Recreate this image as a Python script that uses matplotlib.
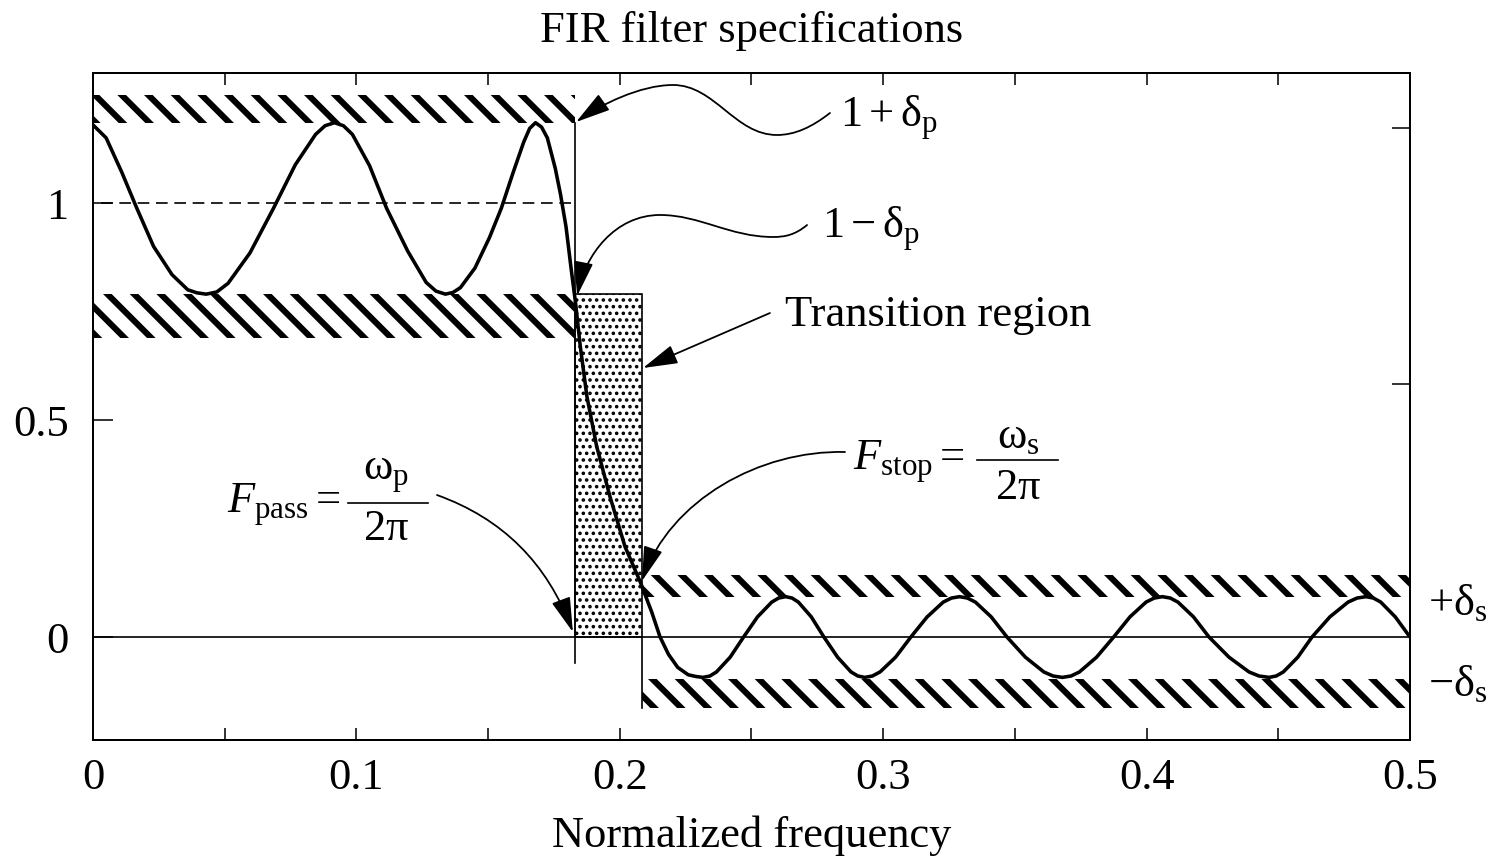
import matplotlib
matplotlib.use("Agg")
import matplotlib.pyplot as plt
from matplotlib.patches import Rectangle, FancyArrowPatch
from matplotlib.path import Path

plt.rcParams["font.family"] = ["Liberation Serif", "DejaVu Serif"]
plt.rcParams["mathtext.fontset"] = "custom"
plt.rcParams["mathtext.rm"] = "Liberation Serif"
plt.rcParams["mathtext.it"] = "Liberation Serif:italic"
plt.rcParams["mathtext.bf"] = "Liberation Serif:bold"
plt.rcParams["mathtext.default"] = "rm"

# band edges
f_pass = 0.183
f_stop = 0.2083
pass_hi = 1.185
pass_lo = 0.79
stop_hi = 0.093
stop_lo = -0.097

# magnitude response, read point by point
freq = [0.0, 0.005, 0.011, 0.0165, 0.023, 0.030, 0.036, 0.0395, 0.043, 0.047,
        0.0513, 0.0596, 0.0685, 0.0768, 0.0845, 0.0881, 0.0917, 0.0951,
        0.0985, 0.1050, 0.1115, 0.1195, 0.1265, 0.1302, 0.1338, 0.1367,
        0.1395, 0.1450, 0.1505, 0.155, 0.1595, 0.1635, 0.1658, 0.168, 0.1703,
        0.1725, 0.1755, 0.1775, 0.1796, 0.1815, 0.1832, 0.1850,
        0.1875, 0.1912, 0.1963, 0.2020, 0.2077, 0.2121, 0.2153,
        0.2185, 0.2220, 0.2260, 0.2290, 0.2316, 0.2342,
        0.2367, 0.2419, 0.247, 0.2523, 0.2577, 0.2603, 0.263, 0.2654,
        0.2678, 0.2727, 0.2775, 0.2827, 0.2878, 0.2904, 0.293, 0.2959,
        0.2988, 0.3047, 0.3105, 0.3167, 0.3228, 0.3259, 0.329, 0.332,
        0.335, 0.341, 0.347, 0.354, 0.361, 0.3645, 0.368, 0.3713,
        0.3745, 0.381, 0.3875, 0.3937, 0.3998, 0.4029, 0.406, 0.4090,
        0.4119, 0.4178, 0.4237, 0.4313, 0.4389, 0.4427, 0.4465, 0.4492,
        0.4519, 0.4574, 0.4628, 0.4696, 0.4765, 0.4799, 0.4833, 0.4861,
        0.4889, 0.4944, 0.5]
mag = [1.180, 1.15, 1.07, 0.99, 0.90, 0.835, 0.80, 0.793, 0.79, 0.795,
       0.815, 0.885, 0.9875, 1.088, 1.158, 1.178, 1.185, 1.178,
       1.158, 1.086, 0.9875, 0.889, 0.817, 0.797, 0.79, 0.794,
       0.805, 0.85, 0.92, 0.9875, 1.07, 1.14, 1.172, 1.185, 1.175,
       1.15, 1.08, 1.02, 0.945, 0.85, 0.77, 0.67,
       0.555, 0.44, 0.323, 0.208, 0.128, 0.058, 0.0,
       -0.040, -0.070, -0.087, -0.091, -0.093, -0.0898,
       -0.0805, -0.0465, 0.0, 0.0465, 0.0805, 0.0898, 0.093, 0.0898,
       0.0805, 0.0465, 0.0, -0.0465, -0.0805, -0.0898, -0.093, -0.0898,
       -0.0805, -0.0465, 0.0, 0.0465, 0.0805, 0.0898, 0.093, 0.0898,
       0.0805, 0.0465, 0.0, -0.0465, -0.0805, -0.0898, -0.093, -0.0898,
       -0.0805, -0.0465, 0.0, 0.0465, 0.0805, 0.0898, 0.093, 0.0898,
       0.0805, 0.0465, 0.0, -0.0465, -0.0805, -0.0898, -0.093, -0.0898,
       -0.0805, -0.0465, 0.0, 0.0465, 0.0805, 0.0898, 0.093, 0.0898,
       0.0805, 0.0465, 0.0]

xticks = [0, 0.05, 0.1, 0.15, 0.2, 0.25, 0.3, 0.35, 0.4, 0.45, 0.5]
xticklabels = ["0", "", "0.1", "", "0.2", "", "0.3", "", "0.4", "", "0.5"]
yticks = [0, 0.5, 1]
yticklabels = ["0", "0.5", "1"]
right_ticks = [0.583, 1.173]

fig = plt.figure(figsize=(18.625, 10.7375), dpi=80)
ax = fig.add_axes([0.0624, 0.1385, 0.8839, 0.7765])
ax.set_xlim(0, 0.5)
ax.set_ylim(-0.2373, 1.2995)


def band(x0, x1, y0, y1):
    r = Rectangle((x0, y0), x1 - x0, y1 - y0, facecolor="white",
                  edgecolor="black", lw=0, hatch="\\", zorder=1)
    if hasattr(r, "set_hatch_linewidth"):
        r.set_hatch_linewidth(5.5)
    ax.add_patch(r)


plt.rcParams["hatch.linewidth"] = 5.5
band(0, f_pass, pass_hi, 1.249)
band(0, f_pass, 0.689, pass_lo)
band(f_stop, 0.5, stop_hi, 0.143)
band(f_stop, 0.5, -0.163, stop_lo)

trans = Rectangle((f_pass, 0), f_stop - f_pass, pass_lo, facecolor="white",
                  edgecolor="black", lw=1.5, hatch="..", zorder=2)
if hasattr(trans, "set_hatch_linewidth"):
    trans.set_hatch_linewidth(2.0)
ax.add_patch(trans)

# reference lines
ax.axhline(0, color="black", lw=1.5, zorder=2)
ax.plot([0.003, f_pass], [1, 1], color="black", lw=1.5, ls=(0, (7, 4)), zorder=2)
ax.plot([f_pass, f_pass], [-0.06, pass_hi], color="black", lw=1.5, zorder=2)
ax.plot([f_stop, f_stop], [-0.163, 0], color="black", lw=1.5, zorder=2)

ax.plot(freq, mag, color="black", lw=3.2, zorder=3,
        solid_joinstyle="round", solid_capstyle="round")

# annotations
ahead = "-|>,head_length=2.7,head_width=0.75"


def curved(verts, codes):
    p = FancyArrowPatch(path=Path(verts, codes), arrowstyle=ahead,
                        mutation_scale=10, lw=1.6, color="black", zorder=4)
    ax.add_patch(p)


C4 = Path.CURVE4
curved([(0.2798, 1.2074), (0.2730, 1.1751), (0.2665, 1.1567), (0.2597, 1.1567),
        (0.2437, 1.1567), (0.2361, 1.2719), (0.2202, 1.2719),
        (0.2077, 1.2719), (0.1925, 1.2258), (0.1834, 1.1866)],
       [Path.MOVETO] + [C4] * 9)
curved([(0.2711, 0.9493), (0.2665, 0.9263), (0.2627, 0.9217), (0.2582, 0.9217),
        (0.2418, 0.9217), (0.2304, 0.9724), (0.2153, 0.9724),
        (0.1982, 0.9724), (0.1868, 0.8802), (0.1838, 0.7857)],
       [Path.MOVETO] + [C4] * 9)
curved([(0.1306, 0.3272), (0.1678, 0.2465), (0.1822, 0.0115)],
       [Path.MOVETO, Path.CURVE3, Path.CURVE3])
curved([(0.2855, 0.4263), (0.2532, 0.4309), (0.2191, 0.3157), (0.2084, 0.1290)],
       [Path.MOVETO, C4, C4, C4])
ax.add_patch(FancyArrowPatch((0.2570, 0.7465), (0.2088, 0.6198), arrowstyle=ahead,
                             mutation_scale=10, lw=1.6, color="black",
                             shrinkA=0, shrinkB=0, zorder=4))

fs = 40
ax.text(0.2836, 1.196, r"$1 + \delta_{\mathrm{p}}$", fontsize=fs, va="center")
ax.text(0.2768, 0.942, r"$1 - \delta_{\mathrm{p}}$", fontsize=fs, va="center")
ax.text(0.2627, 0.742, "Transition region", fontsize=fs, va="center")

# F_stop = omega_s / 2pi
ax.text(0.2885, 0.3848, r"$\mathit{F}_{\mathrm{stop}} =$", fontsize=fs, va="baseline")
ax.plot([0.3356, 0.3664], [0.4078, 0.4078], color="black", lw=1.5)
ax.text(0.3512, 0.4355, r"$\omega_{\mathrm{s}}$", fontsize=fs, ha="center", va="baseline")
ax.text(0.3512, 0.318, r"$2\pi$", fontsize=fs, ha="center", va="baseline")

# F_pass = omega_p / 2pi
ax.text(0.0509, 0.2857, r"$\mathit{F}_{\mathrm{pass}} =$", fontsize=fs, va="baseline")
ax.plot([0.0968, 0.1272], [0.3088, 0.3088], color="black", lw=1.5)
ax.text(0.1112, 0.3618, r"$\omega_{\mathrm{p}}$", fontsize=fs, ha="center", va="baseline")
ax.text(0.1112, 0.2235, r"$2\pi$", fontsize=fs, ha="center", va="baseline")

ax.text(0.5068, 0.078, r"$+\delta_{\mathrm{s}}$", fontsize=fs, va="center", clip_on=False)
ax.text(0.5068, -0.11, r"$-\delta_{\mathrm{s}}$", fontsize=fs, va="center", clip_on=False)

# axes styling
for s in ax.spines.values():
    s.set_linewidth(1.8)
ax.set_xticks(xticks)
ax.set_xticklabels(xticklabels)
ax.set_yticks(yticks)
ax.set_yticklabels(yticklabels)
ax.tick_params(axis="x", direction="in", length=11, width=1.4, top=True,
               labelsize=fs, pad=16)
ax.tick_params(axis="y", direction="in", length=18, width=1.4,
               labelsize=fs, pad=22)

ax2 = ax.twinx()
ax2.set_ylim(ax.get_ylim())
ax2.set_yticks(right_ticks)
ax2.set_yticklabels(["", ""])
ax2.tick_params(axis="y", direction="in", length=16, width=1.4)
for s in ax2.spines.values():
    s.set_linewidth(1.8)

ax.set_title("FIR filter specifications", fontsize=fs, pad=28)
ax.set_xlabel("Normalized frequency", fontsize=fs, labelpad=16)

fig.savefig("out.png", dpi=80)
